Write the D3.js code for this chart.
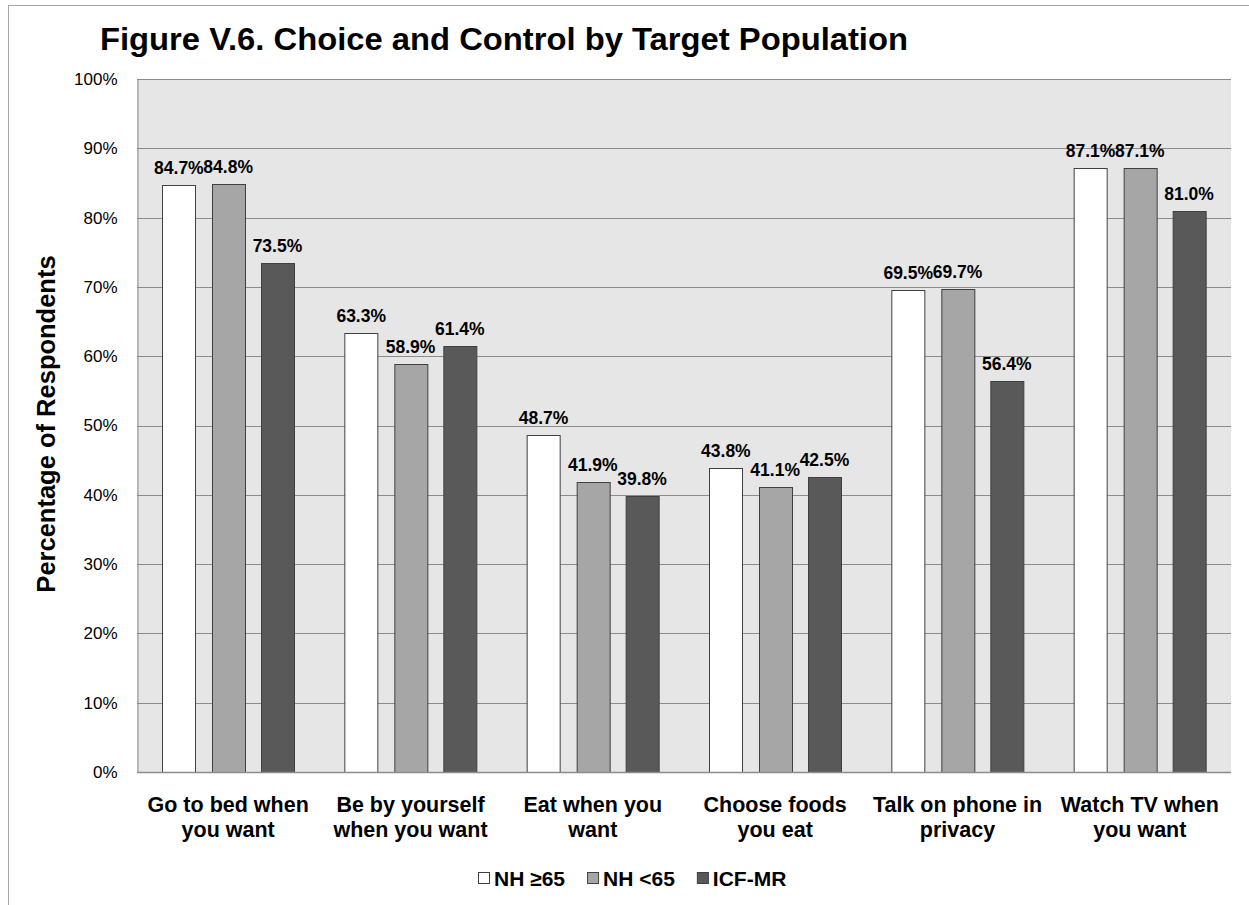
<!DOCTYPE html>
<html>
<head>
<meta charset="utf-8">
<script src="https://cdn.jsdelivr.net/npm/d3@7"></script>
<style>
  html, body { margin: 0; padding: 0; background: #ffffff; }
  svg { display: block; font-family: "Liberation Sans", Arial, sans-serif; }
</style>
</head>
<body>
<svg id="chart" width="1249" height="905"></svg>
<script>
// Survey items (x categories) and their wrapped label lines
const categories = [
  "Go to bed when you want",
  "Be by yourself when you want",
  "Eat when you want",
  "Choose foods you eat",
  "Talk on phone in privacy",
  "Watch TV when you want"
];
const categoryLines = [
  ["Go to bed when", "you want"],
  ["Be by yourself", "when you want"],
  ["Eat when you", "want"],
  ["Choose foods", "you eat"],
  ["Talk on phone in", "privacy"],
  ["Watch TV when", "you want"]
];

// Target populations (series)
const seriesNames = ["NH \u226565", "NH <65", "ICF-MR"];
const seriesColors = ["#ffffff", "#a6a6a6", "#595959"];

// Percentage of respondents per item, one array per population
const nhOver65  = [84.7, 63.3, 48.7, 43.8, 69.5, 87.1];
const nhUnder65 = [84.8, 58.9, 41.9, 41.1, 69.7, 87.1];
const icfMr     = [73.5, 61.4, 39.8, 42.5, 56.4, 81.0];
const seriesValues = [nhOver65, nhUnder65, icfMr];

// Y axis ticks (percent)
const yTicks = [0, 10, 20, 30, 40, 50, 60, 70, 80, 90, 100];

const svg = d3.select("#chart");

// Outer chart frame
svg.append("rect")
  .attr("x", 8.5).attr("y", 5.5)
  .attr("width", 1260).attr("height", 920)
  .attr("fill", "#ffffff")
  .attr("stroke", "#a6a6a6").attr("stroke-width", 1);

const plot = { left: 137, right: 1231, top: 79, bottom: 772 };

const x = d3.scaleBand()
  .domain(categories)
  .range([plot.left, plot.right])
  .padding(0);

const xs = d3.scaleBand()
  .domain(seriesNames)
  .range([0, x.bandwidth()])
  .paddingInner(0.33)
  .paddingOuter(0.515);

const y = d3.scaleLinear()
  .domain([0, 100])
  .range([plot.bottom, plot.top]);

// Plot background
svg.append("rect")
  .attr("x", plot.left).attr("y", plot.top)
  .attr("width", plot.right - plot.left)
  .attr("height", plot.bottom - plot.top)
  .attr("fill", "#e6e6e6");

// Horizontal gridlines
svg.append("g")
  .selectAll("line")
  .data(yTicks.filter(d => d > 0))
  .join("line")
  .attr("x1", plot.left).attr("x2", plot.right)
  .attr("y1", d => Math.round(y(d)) + 0.5)
  .attr("y2", d => Math.round(y(d)) + 0.5)
  .attr("stroke", "#8c8c8c").attr("stroke-width", 1);

// Y axis line and tick labels
const yAxis = d3.axisLeft(y)
  .tickValues(yTicks)
  .tickFormat(d => d + "%")
  .tickSize(0)
  .tickPadding(20);

const yg = svg.append("g")
  .attr("transform", `translate(${plot.left + 0.5},0)`)
  .call(yAxis);
yg.select(".domain").attr("stroke", "#8c8c8c");
yg.selectAll("text")
  .attr("fill", "#000")
  .style("font-size", "17px");

// Bars
const groups = svg.append("g")
  .selectAll("g")
  .data(categories)
  .join("g")
  .attr("transform", d => `translate(${x(d)},0)`);

groups.selectAll("rect")
  .data((d, i) => seriesNames.map((s, j) => ({ s, j, v: seriesValues[j][i] })))
  .join("rect")
  .attr("x", d => Math.round(xs(d.s)) + 0.5)
  .attr("y", d => Math.round(y(d.v)) + 0.5)
  .attr("width", Math.round(xs.bandwidth()))
  .attr("height", d => Math.round(y(0)) - Math.round(y(d.v)))
  .attr("fill", d => seriesColors[d.j])
  .attr("stroke", "#404040")
  .attr("stroke-width", 1);

// Value labels
groups.selectAll("text.val")
  .data((d, i) => seriesNames.map((s, j) => ({ s, j, v: seriesValues[j][i] })))
  .join("text")
  .attr("class", "val")
  .attr("x", d => xs(d.s) + xs.bandwidth() / 2)
  .attr("y", d => y(d.v) - 11)
  .attr("text-anchor", "middle")
  .style("font-size", "17.5px")
  .style("font-weight", "bold")
  .attr("fill", "#000")
  .text(d => d.v.toFixed(1) + "%");

// X axis baseline
svg.append("line")
  .attr("x1", plot.left).attr("x2", plot.right)
  .attr("y1", plot.bottom + 0.5).attr("y2", plot.bottom + 0.5)
  .attr("stroke", "#8c8c8c").attr("stroke-width", 1.5);

// Category labels
svg.append("g")
  .selectAll("text")
  .data(categories)
  .join("text")
  .attr("x", d => x(d) + x.bandwidth() / 2)
  .attr("y", 812)
  .attr("text-anchor", "middle")
  .style("font-size", "21.5px")
  .style("font-weight", "bold")
  .attr("fill", "#000")
  .each(function (d, i) {
    const t = d3.select(this);
    categoryLines[i].forEach((line, k) => {
      t.append("tspan")
        .attr("x", x(d) + x.bandwidth() / 2)
        .attr("dy", k === 0 ? 0 : 25)
        .text(line);
    });
  });

// Y axis title
svg.append("text")
  .attr("transform", "translate(55,424) rotate(-90)")
  .attr("text-anchor", "middle")
  .style("font-size", "25.5px")
  .style("font-weight", "bold")
  .attr("fill", "#000")
  .text("Percentage of Respondents");

// Chart title
svg.append("text")
  .attr("x", 100).attr("y", 50)
  .style("font-size", "31px")
  .style("font-weight", "bold")
  .attr("fill", "#000")
  .attr("textLength", 808)
  .attr("lengthAdjust", "spacingAndGlyphs")
  .text("Figure V.6. Choice and Control by Target Population");

// Legend
const legend = svg.append("g");
let lx = 0;
seriesNames.forEach((name, j) => {
  const item = legend.append("g").attr("transform", `translate(${lx},0)`);
  item.append("rect")
    .attr("x", 0.5).attr("y", 872.5)
    .attr("width", 11).attr("height", 11)
    .attr("fill", seriesColors[j])
    .attr("stroke", "#404040").attr("stroke-width", 1);
  const t = item.append("text")
    .attr("x", 16).attr("y", 885.5)
    .style("font-size", "21px")
    .style("font-weight", "bold")
    .attr("fill", "#000")
    .text(name);
  lx += 16 + t.node().getComputedTextLength() + 22;
});
const legendWidth = lx - 22;
legend.attr("transform", `translate(${Math.round(632 - legendWidth / 2)},0)`);
</script>
</body>
</html>
